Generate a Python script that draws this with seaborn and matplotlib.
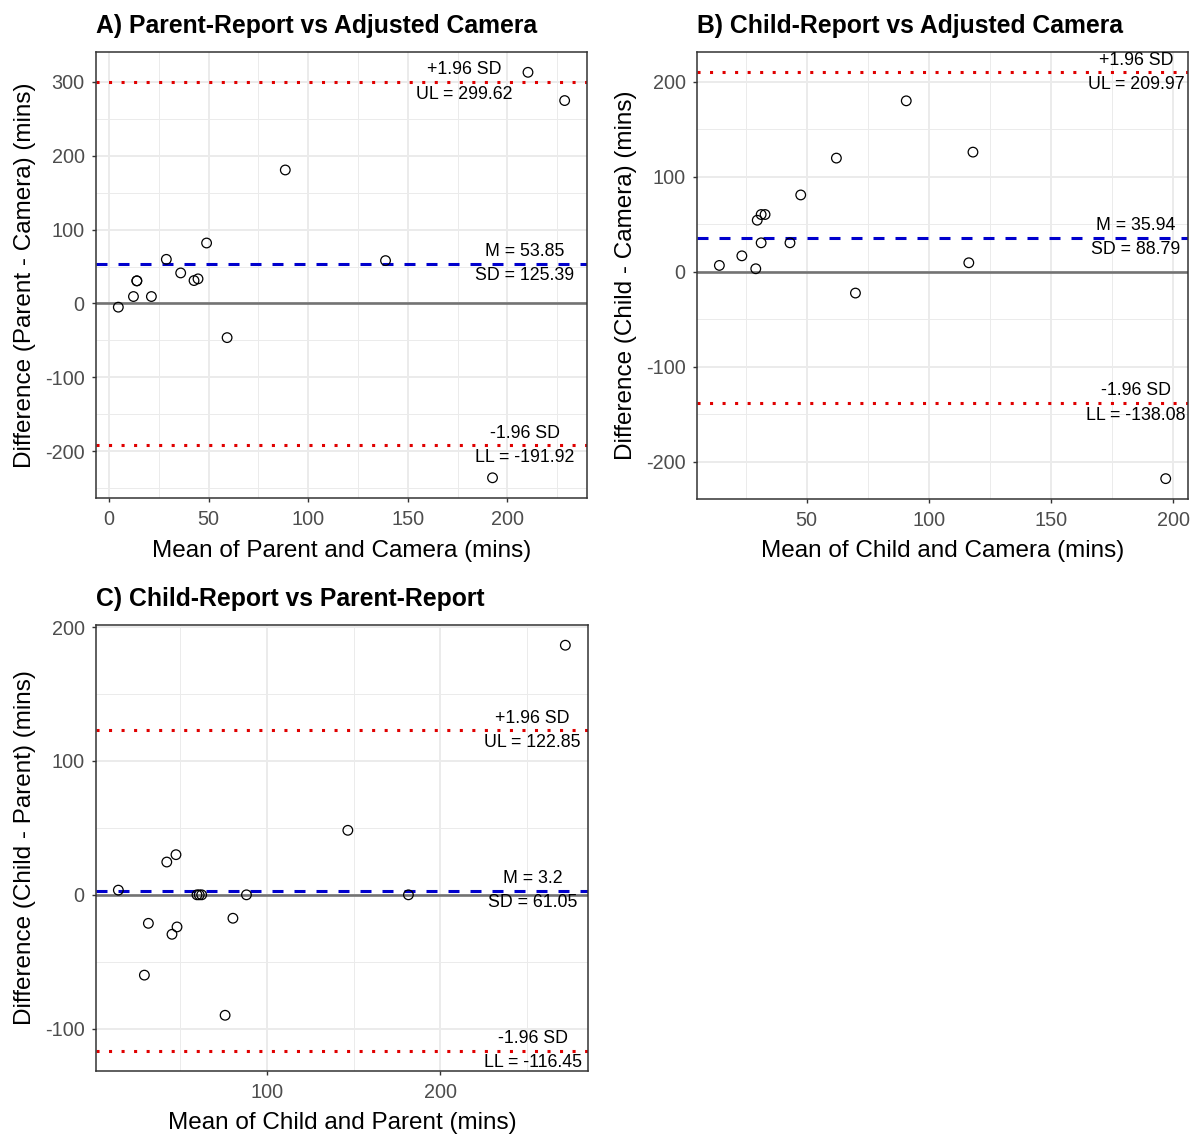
import numpy as np
import pandas as pd
import matplotlib
matplotlib.use("Agg")
import matplotlib.pyplot as plt
from matplotlib.ticker import MultipleLocator
import seaborn as sns

# ---- data: Bland-Altman means (x) and differences (y), in minutes ----
mean_parent_camera = [4.7, 12.3, 21.3, 14.0, 14.0, 28.8, 36.0, 42.7, 44.7, 49.0,
                      59.3, 88.5, 138.8, 210.3, 228.7, 192.5]
diff_parent_camera = [-5.0, 9.4, 9.4, 30.6, 30.6, 59.7, 41.3, 31.0, 33.3, 81.8,
                      -46.2, 180.6, 58.0, 312.7, 274.5, -235.8]

mean_child_camera = [14.3, 23.5, 29.2, 29.8, 31.4, 31.4, 33.0, 43.2, 47.6, 62.2,
                     70.0, 90.8, 116.4, 118.1, 197.0]
diff_child_camera = [6.7, 16.8, 3.2, 54.3, 30.5, 60.3, 60.3, 30.5, 80.9, 119.7,
                     -22.4, 180.0, 9.5, 126.0, -217.8]

mean_child_parent = [14.5, 29.5, 31.8, 42.4, 45.4, 47.7, 48.3, 59.8, 61.1, 62.5,
                     76.0, 80.5, 88.3, 146.7, 181.6, 272.0]
diff_child_parent = [3.5, -60.0, -21.3, 24.5, -29.5, 30.0, -24.0, 0.0, 0.0, 0.0,
                     -90.0, -17.5, 0.0, 48.2, 0.0, 186.5]

# agreement statistics: mean, SD, upper and lower limits
stats_A = dict(m=53.85, sd=125.39, ul=299.62, ll=-191.92)
stats_B = dict(m=35.94, sd=88.79, ul=209.97, ll=-138.08)
stats_C = dict(m=3.2, sd=61.05, ul=122.85, ll=-116.45)

titles = ["A) Parent-Report vs Adjusted Camera",
          "B) Child-Report vs Adjusted Camera",
          "C) Child-Report vs Parent-Report"]
xlabels = ["Mean of Parent and Camera (mins)",
           "Mean of Child and Camera (mins)",
           "Mean of Child and Parent (mins)"]
ylabels = ["Difference (Parent - Camera) (mins)",
           "Difference (Child - Camera) (mins)",
           "Difference (Child - Parent) (mins)"]

sns.set_theme(style="white")
plt.rcParams["font.family"] = ["Liberation Sans", "DejaVu Sans"]
plt.rcParams["axes.unicode_minus"] = False

fig = plt.figure(figsize=(11.94, 11.34), dpi=100)
ax_A = fig.add_axes([0.0804, 0.5608, 0.4112, 0.3933])
ax_B = fig.add_axes([0.5838, 0.5600, 0.4112, 0.3941])
ax_C = fig.add_axes([0.0804, 0.0556, 0.4118, 0.3933])

GRID = "#EBEBEB"
TICK_TXT = "#4D4D4D"
DARK = "#333333"


def expand(lo, hi, f=0.05):
    r = hi - lo
    return lo - f * r, hi + f * r


def bland_altman(ax, x, y, st, title, xlabel, ylabel, xstep, ystep,
                 ul_pos, other_pos):
    df = pd.DataFrame({"mean": x, "diff": y})
    ax.set_axisbelow(True)
    ax.axhline(0, color="#737373", lw=1.9, zorder=1)
    ax.axhline(st["m"], color="#0000CD", lw=2.2, ls=(0, (3.6, 3.6)), zorder=2)
    ax.axhline(st["ul"], color="#E00000", lw=2.2, ls=(0, (1, 3.1)), zorder=2)
    ax.axhline(st["ll"], color="#E00000", lw=2.2, ls=(0, (1, 3.1)), zorder=2)
    sns.scatterplot(data=df, x="mean", y="diff", ax=ax, marker="o", s=48,
                    facecolor="none", edgecolor="black", linewidth=0.9,
                    zorder=3)

    # scale limits cover points and reference lines, expanded by 5%
    ax.set_xlim(*expand(min(x), max(x)))
    ylo = min(min(y), st["ll"])
    yhi = max(max(y), st["ul"])
    ax.set_ylim(*expand(ylo, yhi))

    ax.xaxis.set_major_locator(MultipleLocator(xstep))
    ax.xaxis.set_minor_locator(MultipleLocator(xstep / 2))
    ax.yaxis.set_major_locator(MultipleLocator(ystep))
    ax.yaxis.set_minor_locator(MultipleLocator(ystep / 2))
    ax.grid(which="major", color=GRID, lw=1.4)
    ax.grid(which="minor", color=GRID, lw=0.7)
    ax.tick_params(which="major", length=3.2, width=1.0, color=DARK,
                   labelsize=14.3, labelcolor=TICK_TXT, pad=2.2,
                   bottom=True, left=True)
    ax.tick_params(axis="x", which="major", pad=5.5)
    ax.tick_params(axis="y", which="major", pad=5.0)
    ax.tick_params(which="minor", length=0)
    for sp in ax.spines.values():
        sp.set_color(DARK)
        sp.set_linewidth(1.1)

    ax.set_title(title, loc="left", fontsize=17.8, fontweight="bold",
                 pad=13.5, color="black")
    ax.set_xlabel(xlabel, fontsize=17.5, labelpad=7.5, color="black")
    ax.set_ylabel(ylabel, fontsize=17.5, labelpad=6.3, color="black")

    def label(frac, val, upper, lower):
        kw = dict(xycoords=("axes fraction", "data"), textcoords="offset points",
                  ha="center", va="center", fontsize=12.8, color="black",
                  zorder=4)
        ax.annotate(upper, xy=(frac, val), xytext=(0, 8.8), **kw)
        ax.annotate(lower, xy=(frac, val), xytext=(0, -8.8), **kw)

    label(ul_pos, st["ul"], "+1.96 SD", f"UL = {st['ul']:.2f}")
    label(other_pos, st["m"], f"M = {st['m']:g}", f"SD = {st['sd']:.2f}")
    label(other_pos, st["ll"], "-1.96 SD", f"LL = {st['ll']:.2f}")


bland_altman(ax_A, mean_parent_camera, diff_parent_camera, stats_A,
             titles[0], xlabels[0], ylabels[0], 50, 100, 0.751, 0.873)
bland_altman(ax_B, mean_child_camera, diff_child_camera, stats_B,
             titles[1], xlabels[1], ylabels[1], 50, 100, 0.894, 0.894)
bland_altman(ax_C, mean_child_parent, diff_child_parent, stats_C,
             titles[2], xlabels[2], ylabels[2], 100, 100, 0.888, 0.888)

fig.savefig("out.png", dpi=100, facecolor="white")
